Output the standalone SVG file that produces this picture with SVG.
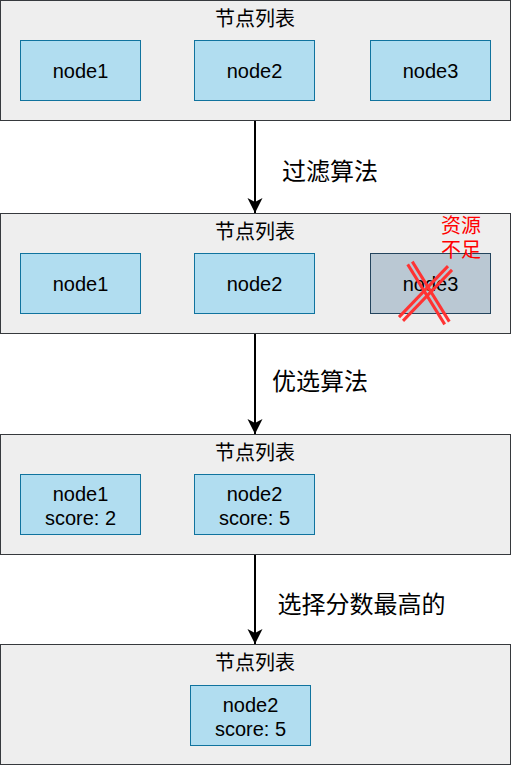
<svg xmlns="http://www.w3.org/2000/svg" width="511" height="766" viewBox="0 0 511 766">
<style>
.cont{fill:#eeeeee;stroke:#36393d;stroke-width:1}
.node{fill:#b1ddf0;stroke:#10739e;stroke-width:1}
.gray{fill:#bac8d3;stroke:#23445d;stroke-width:1}
text{font-family:"Liberation Sans","Noto Sans CJK SC",sans-serif;fill:#000}
.t{font-size:20px;text-anchor:middle}
.lbl{font-size:24px;text-anchor:middle}
.red{fill:#ff0000;font-size:20px;text-anchor:middle}
.edge{stroke:#000;stroke-width:2;fill:none}
.x{stroke:#ff3333;stroke-width:3;fill:none}
</style>
<defs>
<marker id="arr" markerUnits="userSpaceOnUse" viewBox="0 0 16 16" refX="15" refY="8" markerWidth="16" markerHeight="16" orient="auto">
<path d="M15,8 L0,0.5 L4,8 L0,15.5 Z" fill="#000"/>
</marker>
</defs>
<g id="list1">
<rect class="cont" x="0.5" y="0.5" width="510" height="120"/>
<text class="t" x="255" y="25.5">节点列表</text>
</g>
<g id="l1-node1"><rect class="node" x="20.5" y="40.5" width="120" height="60"/><text class="t" x="80.5" y="77.5">node1</text></g>
<g id="l1-node2"><rect class="node" x="194.5" y="40.5" width="120" height="60"/><text class="t" x="254.5" y="77.5">node2</text></g>
<g id="l1-node3"><rect class="node" x="370.5" y="40.5" width="120" height="60"/><text class="t" x="430.5" y="77.5">node3</text></g>

<g id="list2">
<rect class="cont" x="0.5" y="213.5" width="510" height="120"/>
<text class="t" x="255" y="238.5">节点列表</text>
</g>
<g id="l2-node1"><rect class="node" x="20.5" y="253.5" width="120" height="60"/><text class="t" x="80.5" y="290.5">node1</text></g>
<g id="l2-node2"><rect class="node" x="194.5" y="253.5" width="120" height="60"/><text class="t" x="254.5" y="290.5">node2</text></g>
<g id="l2-node3"><rect class="gray" x="370.5" y="253.5" width="120" height="60"/><text class="t" x="430.5" y="290.5">node3</text></g>
<g id="cross">
<line class="x" x1="399" y1="317.1" x2="448" y2="266.1"/>
<line class="x" x1="403" y1="320.9" x2="452" y2="269.9"/>
<line class="x" x1="407.7" y1="264.4" x2="444.7" y2="324.4"/>
<line class="x" x1="412.3" y1="261.6" x2="449.3" y2="321.6"/>
</g>
<g id="lack">
<text class="red" x="461" y="233">资源</text>
<text class="red" x="461" y="257">不足</text>
</g>

<g id="list3">
<rect class="cont" x="0.5" y="434.5" width="510" height="120"/>
<text class="t" x="255" y="459.5">节点列表</text>
</g>
<g id="l3-node1"><rect class="node" x="20.5" y="474.5" width="120" height="60"/><text class="t" x="80.5" y="500.5">node1</text><text class="t" x="80.5" y="524.5">score: 2</text></g>
<g id="l3-node2"><rect class="node" x="194.5" y="474.5" width="120" height="60"/><text class="t" x="254.5" y="500.5">node2</text><text class="t" x="254.5" y="524.5">score: 5</text></g>

<g id="list4">
<rect class="cont" x="0.5" y="644.5" width="510" height="120"/>
<text class="t" x="255" y="669.5">节点列表</text>
</g>
<g id="l4-node2"><rect class="node" x="190.5" y="685.5" width="120" height="60"/><text class="t" x="250.5" y="711.5">node2</text><text class="t" x="250.5" y="735.5">score: 5</text></g>

<g id="connectors">
<line class="edge" x1="255" y1="121" x2="255" y2="213" marker-end="url(#arr)"/>
<line class="edge" x1="255" y1="334" x2="255" y2="434" marker-end="url(#arr)"/>
<line class="edge" x1="255" y1="555" x2="255" y2="644" marker-end="url(#arr)"/>
<text class="lbl" x="330" y="180">过滤算法</text>
<text class="lbl" x="320" y="390">优选算法</text>
<text class="lbl" x="361.5" y="613">选择分数最高的</text>
</g>
</svg>
